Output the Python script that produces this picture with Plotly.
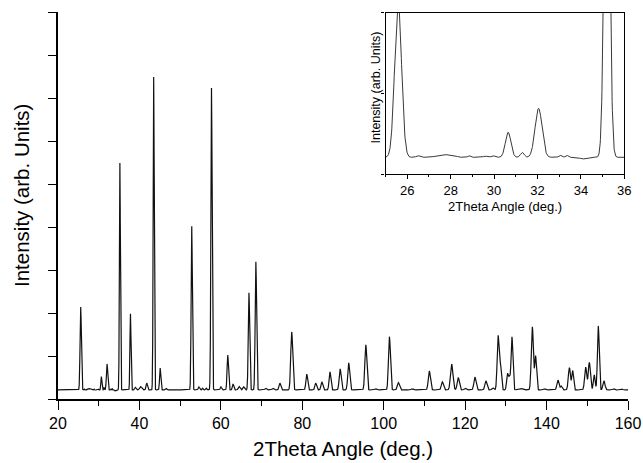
import numpy as np
import plotly.graph_objects as go

# Diffraction peaks: position (2theta, deg), height above background (counts), FWHM (deg)
peak_pos = [25.58, 30.65, 31.30, 32.05, 35.20, 37.80, 41.80, 43.50, 45.10,
            52.85, 54.60, 57.70, 60.00, 61.70, 63.00, 66.90, 68.60, 74.50,
            77.40, 81.10, 83.30, 84.80, 86.80, 89.30, 91.40, 95.60, 101.40,
            103.60, 111.20, 114.40, 116.70, 118.30, 122.40, 125.10, 128.10,
            128.70, 130.40, 130.90, 131.50, 136.50, 137.30, 142.80, 143.60,
            145.60, 146.40, 149.60, 150.50, 151.70, 152.70, 154.10]
peak_height = [1930, 310, 60, 606, 5280, 1770, 160, 7280, 510,
               3810, 70, 7020, 70, 810, 140, 2260, 2980, 160,
               1350, 370, 160, 190, 420, 490, 630, 1050, 1240,
               170, 440, 190, 600, 290, 300, 210, 1260,
               560, 370, 280, 1230, 1470, 790, 230, 90,
               520, 450, 530, 640, 350, 1490, 210]
peak_fwhm = [0.37, 0.30, 0.20, 0.38, 0.28, 0.30, 0.40, 0.30, 0.35,
             0.35, 0.40, 0.35, 0.40, 0.40, 0.40, 0.40, 0.40, 0.50,
             0.55, 0.50, 0.50, 0.50, 0.50, 0.55, 0.55, 0.55, 0.55,
             0.60, 0.60, 0.60, 0.70, 0.60, 0.60, 0.60, 0.55,
             0.50, 0.50, 0.50, 0.50, 0.60, 0.50, 0.60, 0.50,
             0.60, 0.50, 0.60, 0.60, 0.50, 0.50, 0.60]

# Weak background ripples (position, height, FWHM)
ripple_pos = [26.50, 27.70, 28.20, 28.85, 29.60, 29.95, 33.05, 33.35, 34.10,
              39.00, 40.30, 46.50, 55.50, 56.40, 64.50, 65.60, 71.00, 72.80,
              98.00, 107.00, 120.00, 126.80, 133.50, 139.50, 156.50, 158.50]
ripple_height = [20, 35, 15, 20, 15, 20, 25, 25, -20,
                 60, 80, 40, 40, 40, 80, 70, 40, 40,
                 25, 25, 40, 50, 40, 25, 25, 20]
ripple_fwhm = [0.20, 0.70, 0.20, 0.15, 0.20, 0.20, 0.15, 0.15, 0.30,
               0.40, 0.60, 0.40, 0.30, 0.30, 0.50, 0.50, 0.50, 0.50,
               0.60, 0.60, 0.60, 0.60, 1.20, 0.60, 0.50, 0.50]

background = 210
two_theta = np.round(np.arange(20.0, 160.0001, 0.01), 2)


def profile(x, pos, height, fwhm):
    y = np.zeros_like(x)
    for p, h, w in zip(pos, height, fwhm):
        y += h * np.exp(-4 * np.log(2) * (x - p) ** 2 / w ** 2)
    return y


intensity = (background
             + profile(two_theta, peak_pos, peak_height, peak_fwhm)
             + profile(two_theta, ripple_pos, ripple_height, ripple_fwhm))

FONT = "Liberation Sans, Arial, sans-serif"

fig = go.Figure()
fig.add_trace(go.Scatter(x=two_theta, y=intensity, mode="lines",
                         line=dict(color="#111111", width=1.2),
                         xaxis="x", yaxis="y", hoverinfo="skip"))
fig.add_trace(go.Scatter(x=two_theta, y=intensity, mode="lines",
                         line=dict(color="#222222", width=0.9),
                         xaxis="x2", yaxis="y2", hoverinfo="skip"))

# main plot area: x 58..628 px, y 12..399 px
ml, mr, mt, mb = 58, 15, 12, 64
W, H = 643, 463
pw, ph = W - ml - mr, H - mt - mb


def px_to_paper(px, py):
    return (px - ml) / pw, (H - mb - py) / ph


ix0, iy0 = px_to_paper(385.5, 174.3)
ix1, iy1 = px_to_paper(624.3, 12.7)

fig.update_layout(
    width=W, height=H, autosize=False,
    margin=dict(l=ml, r=mr, t=mt, b=mb, autoexpand=False),
    paper_bgcolor="white", plot_bgcolor="white",
    showlegend=False,
    font=dict(family=FONT, color="black"),
    xaxis=dict(range=[20, 160], domain=[0, 1], automargin=False, showgrid=False,
               zeroline=False, showline=True, linecolor="black", linewidth=1.5,
               tick0=20, dtick=20, ticks="outside", ticklen=9, tickwidth=1.3,
               tickcolor="black", tickfont=dict(size=16, family=FONT),
               minor=dict(tick0=20, dtick=10, ticks="outside", ticklen=5,
                          tickwidth=1.3, tickcolor="black", showgrid=False)),
    yaxis=dict(range=[0, 9000], domain=[0, 1], automargin=False, showgrid=False,
               zeroline=False, showline=True, linecolor="black", linewidth=1.5,
               tick0=0, dtick=1000, ticks="outside", ticklen=8, tickwidth=1.3,
               tickcolor="black", showticklabels=False),
    xaxis2=dict(range=[25, 36], domain=[ix0, ix1], anchor="y2", automargin=False,
                showgrid=False, zeroline=False, showline=True, mirror=True,
                linecolor="black", linewidth=1.2, tick0=26, dtick=2,
                ticks="outside", ticklen=4, tickwidth=1, tickcolor="black",
                tickfont=dict(size=13, family=FONT),
                minor=dict(tick0=25, dtick=1, ticks="outside", ticklen=2,
                           tickwidth=1, tickcolor="black", showgrid=False)),
    yaxis2=dict(range=[0, 2000], domain=[iy0, iy1], anchor="x2", automargin=False,
                showgrid=False, zeroline=False, showline=True, mirror=True,
                linecolor="black", linewidth=1.2, tick0=0, dtick=1000,
                ticks="outside", ticklen=3, tickwidth=1, tickcolor="black",
                showticklabels=False),
)

titles = [
    ("2Theta Angle (deg.)", 343, 448, 20.5, 0),
    ("Intensity (arb. Units)", 21, 196, 20.5, -90),
    ("2Theta Angle (deg.)", 505, 206.7, 13, 0),
    ("Intensity (arb. Units)", 375.5, 88, 12.5, -90),
]
for text, px, py, size, angle in titles:
    ax, ay = px_to_paper(px, py)
    fig.add_annotation(text=text, x=ax, y=ay, xref="paper", yref="paper",
                       xanchor="center", yanchor="middle", showarrow=False,
                       textangle=angle, font=dict(size=size, family=FONT, color="black"))

fig.write_html("out.html")
